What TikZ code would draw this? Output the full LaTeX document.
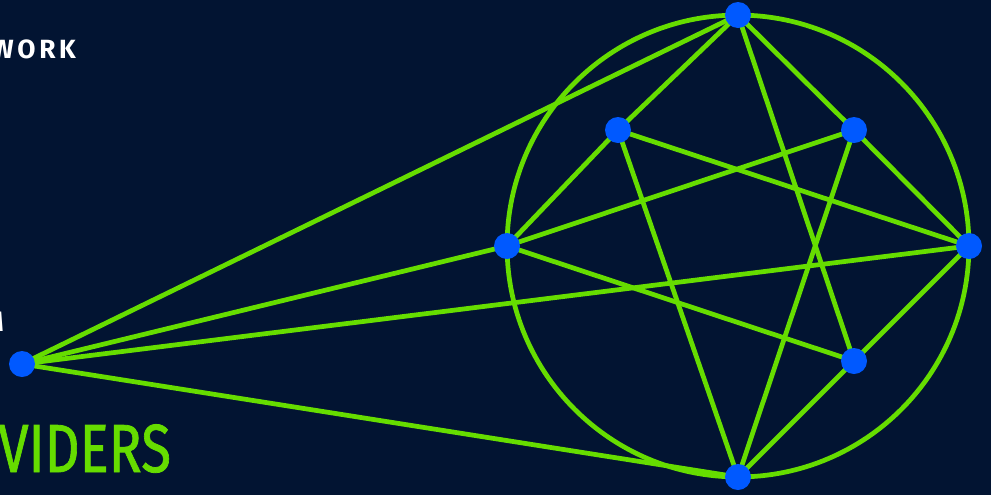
\documentclass[tikz,border=0pt]{standalone}
\usepackage{fontspec}
\setmainfont{Fira Sans}
\newfontfamily\spacedfont{Fira Sans}[LetterSpace=14]
\newfontfamily\anbieterfont{Fira Sans}[FakeBold=1.2]
\usetikzlibrary{backgrounds}
\definecolor{nacht}{RGB}{2,20,50}
\definecolor{netzgruen}{RGB}{102,221,0}
\definecolor{punktblau}{RGB}{0,89,255}
\pgfdeclarelayer{kanten}
\pgfsetlayers{background,kanten,main}
\tikzset{punkt/.style={circle, fill=punktblau, minimum size=0.52cm, inner sep=0pt},
	kante/.style={netzgruen, line width=2.7pt}}

\begin{document}
\begin{tikzpicture}[x=0.02cm, y=-0.02cm]

	\useasboundingbox (0,0) rectangle (991,495);
	\begin{pgfonlayer}{background}
		\fill[nacht] (0,0) rectangle (991,495);
	\end{pgfonlayer}

	\node[punkt] (oben) at (738,15) {};
	\node[punkt] (obenlinks) at (618,130) {};
	\node[punkt] (obenrechts) at (854,130) {};
	\node[punkt] (links) at (507,246) {};
	\node[punkt] (rechts) at (969,246) {};
	\node[punkt] (untenrechts) at (854,361) {};
	\node[punkt] (unten) at (738,477) {};
	\node[punkt] (quelle) at (22,364) {};

	\begin{pgfonlayer}{kanten}
		\draw[kante] (738,246) circle[radius=4.62cm];
		
		\draw[kante] (oben.center) -- (obenlinks.center) -- (links.center);
		\draw[kante] (oben.center) -- (obenrechts.center) -- (rechts.center);
		\draw[kante] (oben.center) -- (untenrechts.center);
		\draw[kante] (obenlinks.center) -- (rechts.center);
		\draw[kante] (obenlinks.center) -- (unten.center);
		\draw[kante] (obenrechts.center) -- (links.center);
		\draw[kante] (obenrechts.center) -- (unten.center);
		\draw[kante] (links.center) -- (untenrechts.center);
		\draw[kante] (rechts.center) -- (untenrechts.center) -- (unten.center);

		% strahlen von links
		\foreach \ziel in {oben,links,rechts,unten}
			\draw[kante] (quelle.center) -- (\ziel.center);
	\end{pgfonlayer}

	\node[white, anchor=base west, inner sep=0pt, font=\spacedfont\bfseries\fontsize{15}{18}\selectfont] (netz) at (-9,58) {WORK};
	\node[white, anchor=base east, inner sep=0pt, font=\bfseries\fontsize{16}{19}\selectfont] (plattform) at (4,331) {M};
	\node[netzgruen, anchor=base west, inner sep=0pt, font=\anbieterfont\fontsize{38.7}{44}\selectfont] (anbieter) at (-2,472) {\scalebox{0.8}[1]{VIDERS}};

\end{tikzpicture}
\end{document}
